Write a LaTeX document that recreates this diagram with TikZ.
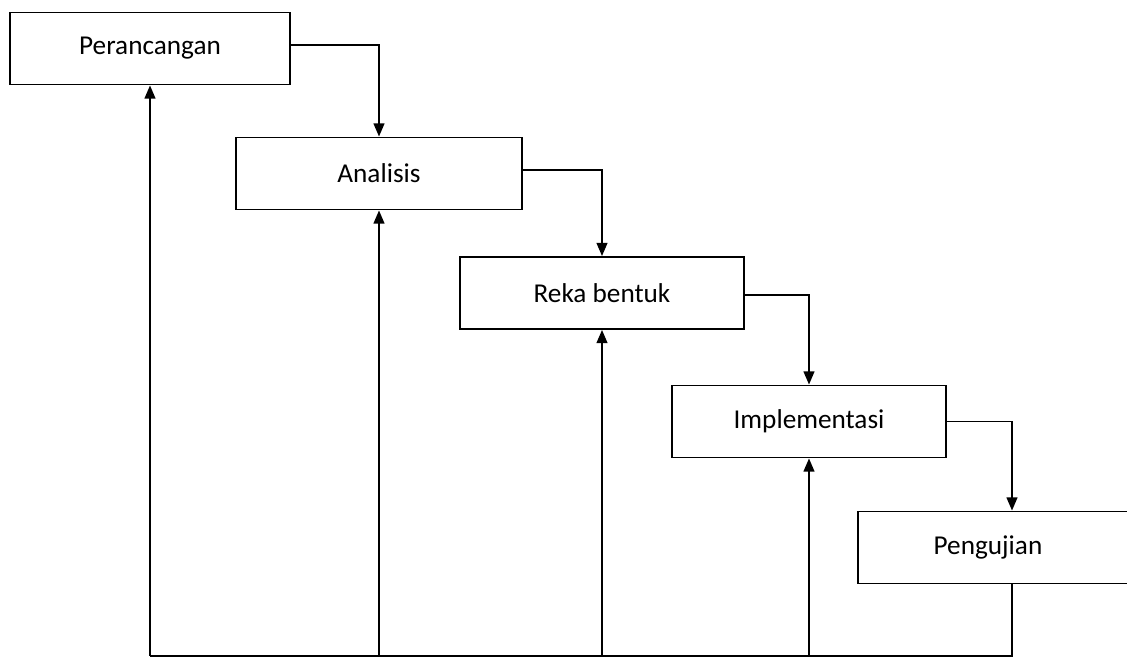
\documentclass[tikz,border=0pt]{standalone}
\usepackage{fontspec}
\setmainfont{Carlito}
\usepackage{tikz}
\usetikzlibrary{arrows.meta,calc,positioning}

\begin{document}
\begin{tikzpicture}[x=0.02cm,y=-0.02cm,>={Triangle[length=7.5pt,width=6.2pt]},
    stage/.style={draw,line width=1.1pt,minimum height=1.44cm,inner sep=0pt,font=\fontsize{15.5}{18}\selectfont},
    flow/.style={line width=0.85pt}]
      \useasboundingbox (0,0) rectangle (1127,658);
      \node[stage,minimum width=5.6cm]  (p) at (150,48.5)  {Perancangan};
      \node[stage,minimum width=5.72cm] (a) at (379,173.5) {Analisis};
      \node[stage,minimum width=5.68cm] (r) at (602,293)   {Reka bentuk};
      \node[stage,minimum width=5.48cm] (i) at (809,421.5) {Implementasi};
      \node[stage,minimum width=5.8cm]  (g) at (1003,547.5) {Pengujian\hspace*{0.6cm}};
      \coordinate (base) at (0,656);
      % turun dari satu tahap ke tahap berikutnya
      \draw[flow,->] ([yshift=2pt]p.east) -| (a.north);
      \draw[flow,->] ([yshift=2pt]a.east) -| (r.north);
      \draw[flow,->] ([yshift=-1pt]r.east) -| (i.north);
      \draw[flow,->] (i.east) -| ([xshift=0.18cm]g.north);
      % garis balik di bawah
      \draw[flow] ([xshift=0.18cm]g.south) |- (p.south |- base);
      \foreach \n in {p,a,r,i}
        \draw[flow,->] (\n.south |- base) -- (\n.south);
\end{tikzpicture}
\end{document}
